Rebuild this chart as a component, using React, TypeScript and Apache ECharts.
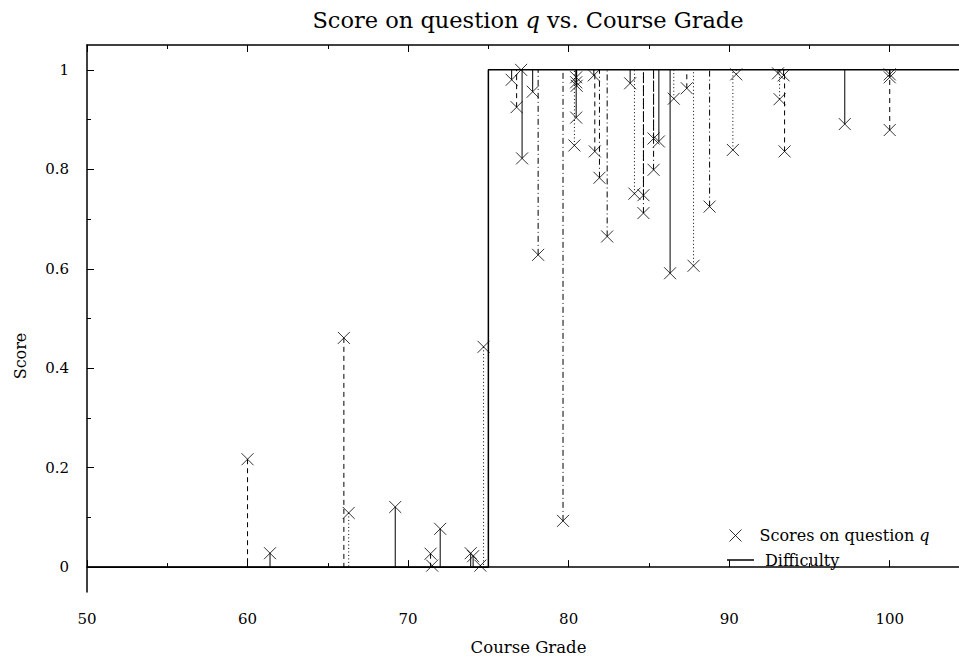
import React, { useEffect, useRef } from "react";
import * as echarts from "echarts";

// Course grade (x) and score on question q (y) for each student
const grades = [
  60.0, 61.4, 66.0, 66.3, 69.2, 71.4, 71.5, 72.0, 73.9, 74.05, 74.5, 74.7,
  76.45, 76.76, 77.04, 77.1, 77.76, 78.1, 79.65, 80.36, 80.47, 80.47, 80.47, 80.5,
  81.57, 81.63, 81.92, 82.4, 83.83, 84.1, 84.66, 84.66, 85.29, 85.29, 85.62, 86.32,
  86.55, 87.36, 87.78, 88.78, 90.23, 90.44, 93.04, 93.14, 93.39, 93.45, 97.2, 100.0,
  100.0, 100.0,
];
const scores = [
  0.217, 0.028, 0.461, 0.109, 0.121, 0.027, 0.003, 0.077, 0.028, 0.022, 0.003, 0.443,
  0.98, 0.925, 1.0, 0.822, 0.956, 0.628, 0.093, 0.848, 0.904, 0.985, 0.975, 0.968,
  0.989, 0.836, 0.783, 0.665, 0.973, 0.751, 0.748, 0.712, 0.862, 0.799, 0.856, 0.591,
  0.942, 0.963, 0.606, 0.725, 0.839, 0.991, 0.993, 0.941, 0.989, 0.836, 0.891, 0.991,
  0.985, 0.879,
];
// line style of each residual drop line (style info, separate from data)
const residualKinds = [
  "dashed", "solid", "dashed", "dotted", "solid", "dashed", "solid", "solid", "solid", "solid", "dotted", "dotted",
  "solid", "dashed", "solid", "solid", "solid", "dashdot", "dashdot", "dotted", "solid", "solid", "solid", "solid",
  "solid", "dashed", "dashdot", "dashdot", "solid", "dotted", "dashdot", "dashdot", "dashdot", "dashdot", "solid", "solid",
  "dotted", "dashed", "dotted", "dashdot", "dotted", "dotted", "solid", "dotted", "solid", "dashed", "solid", "solid",
  "solid", "dashed",
];

// Difficulty step function
const difficultyX = [50, 75, 75, 105];
const difficultyY = [0, 0, 1, 1];

const xMajorTicks = [50, 60, 70, 80, 90, 100];
const xMinorTicks = [55, 65, 75, 85, 95];
const yMajorTicks = [0, 0.2, 0.4, 0.6, 0.8, 1];
const yMinorTicks = [0.1, 0.3, 0.5, 0.7, 0.9];

const FONT = "DejaVu Serif";
const X_ICON = "path://M0,0L10,10M10,0L0,10";

function difficultyAt(x: number): number {
  let v = difficultyY[0];
  for (let i = 0; i < difficultyX.length; i++) {
    if (difficultyX[i] <= x) v = difficultyY[i];
  }
  return v;
}

function dashFor(kind: string): number[] | null {
  if (kind === "dashed") return [5, 4];
  if (kind === "dotted") return [1, 2.5];
  if (kind === "dashdot") return [6, 3, 1, 3];
  return null;
}

export default function App() {
  const ref = useRef<HTMLDivElement>(null);

  useEffect(() => {
    if (!ref.current) return;
    const chart = echarts.init(ref.current, undefined, { renderer: "svg" });

    const xBase = {
      type: "value" as const,
      min: 50,
      max: 105,
      splitLine: { show: false },
    };
    const yBase = {
      type: "value" as const,
      min: -0.05,
      max: 1.05,
      splitLine: { show: false },
    };

    chart.setOption({
      animation: false,
      backgroundColor: "#fff",
      textStyle: { fontFamily: FONT },
      grid: { left: 87, top: 45, width: 883, height: 547, containLabel: false, outerBoundsMode: "none" },
      xAxis: [
        {
          ...xBase,
          position: "bottom",
          axisLine: { show: true, lineStyle: { color: "#000", width: 1.5 } },
          axisTick: { show: true, inside: true, length: 7, customValues: xMajorTicks, lineStyle: { color: "#000" } },
          axisLabel: {
            show: true,
            customValues: xMajorTicks,
            margin: 19,
            color: "#000",
            fontFamily: FONT,
            fontSize: 15,
          },
          name: "Course Grade",
          nameLocation: "middle",
          nameGap: 47,
          nameTextStyle: { color: "#000", fontFamily: FONT, fontSize: 16.5 },
        },
        {
          ...xBase,
          position: "bottom",
          axisLine: { show: false },
          axisTick: { show: true, inside: true, length: 4, customValues: xMinorTicks, lineStyle: { color: "#000" } },
          axisLabel: { show: false },
        },
        {
          ...xBase,
          position: "top",
          axisLine: { show: true, lineStyle: { color: "#000", width: 1.5 } },
          axisTick: { show: true, inside: true, length: 7, customValues: xMajorTicks, lineStyle: { color: "#000" } },
          axisLabel: { show: false },
        },
        {
          ...xBase,
          position: "top",
          axisLine: { show: false },
          axisTick: { show: true, inside: true, length: 4, customValues: xMinorTicks, lineStyle: { color: "#000" } },
          axisLabel: { show: false },
        },
      ],
      yAxis: [
        {
          ...yBase,
          position: "left",
          axisLine: { show: true, lineStyle: { color: "#000", width: 1.5 } },
          axisTick: { show: true, inside: true, length: 7, customValues: yMajorTicks, lineStyle: { color: "#000" } },
          axisLabel: {
            show: true,
            customValues: yMajorTicks,
            margin: 18,
            color: "#000",
            fontFamily: FONT,
            fontSize: 15,
          },
        },
        {
          ...yBase,
          position: "left",
          axisLine: { show: false },
          axisTick: { show: true, inside: true, length: 4, customValues: yMinorTicks, lineStyle: { color: "#000" } },
          axisLabel: { show: false },
        },
      ],
      legend: {
        orient: "vertical",
        left: 727,
        top: 527,
        itemWidth: 28,
        itemHeight: 12,
        padding: 0,
        data: [
          { name: "Scores on question q", icon: X_ICON, itemStyle: { color: "none", borderColor: "#000", borderWidth: 1 } },
        ],
        formatter: () => "{n|Scores on question }{i|q}",
        textStyle: {
          color: "#000",
          fontFamily: FONT,
          fontSize: 16,
          padding: [0, 0, 0, 5],
          rich: {
            n: { fontFamily: FONT, fontSize: 16, color: "#000" },
            i: { fontFamily: FONT, fontSize: 16, color: "#000", fontStyle: "italic" },
          },
        },
      },
      graphic: [
        {
          type: "text",
          x: 528,
          y: 20,
          style: {
            text: "{n|Score on question }{i|q}{n| vs. Course Grade}",
            textAlign: "center",
            textVerticalAlign: "middle",
            rich: {
              n: { fontFamily: FONT, fontSize: 22.5, fill: "#000" },
              i: { fontFamily: FONT, fontSize: 22.5, fill: "#000", fontStyle: "italic" },
            },
          },
        },
        {
          type: "line",
          silent: true,
          shape: { x1: 727, y1: 560, x2: 754, y2: 560 },
          style: { stroke: "#000", lineWidth: 1.5 },
        },
        {
          type: "text",
          x: 765,
          y: 560,
          style: {
            text: "Difficulty",
            fontFamily: FONT,
            fontSize: 16,
            fill: "#000",
            textAlign: "left",
            textVerticalAlign: "middle",
          },
        },
        {
          type: "text",
          x: 20,
          y: 356,
          rotation: Math.PI / 2,
          style: {
            text: "Score",
            fontFamily: FONT,
            fontSize: 16,
            fill: "#000",
            textAlign: "center",
            textVerticalAlign: "middle",
          },
        },
      ],
      series: [
        {
          type: "custom",
          name: "residuals",
          xAxisIndex: 0,
          yAxisIndex: 0,
          silent: true,
          encode: { x: 0, y: 1 },
          data: grades.map((g, i) => [g, scores[i], i]),
          renderItem: (_params: any, api: any) => {
            const x = api.value(0);
            const y = api.value(1);
            const idx = api.value(2);
            const p0 = api.coord([x, y]);
            const p1 = api.coord([x, difficultyAt(x)]);
            return {
              type: "line",
              shape: { x1: p0[0], y1: p0[1], x2: p1[0], y2: p1[1] },
              style: { stroke: "#000", lineWidth: 1, lineDash: dashFor(residualKinds[idx]) },
            };
          },
          z: 1,
        },
        {
          type: "line",
          name: "Difficulty",
          xAxisIndex: 0,
          yAxisIndex: 0,
          data: difficultyX.map((x, i) => [x, difficultyY[i]]),
          symbol: "none",
          lineStyle: { color: "#000", width: 1.5 },
          itemStyle: { color: "#000" },
          z: 2,
        },
        {
          type: "scatter",
          name: "Scores on question q",
          xAxisIndex: 0,
          yAxisIndex: 0,
          data: grades.map((g, i) => [g, scores[i]]),
          symbol: X_ICON,
          symbolSize: 12,
          itemStyle: { color: "none", borderColor: "#000", borderWidth: 1 },
          z: 3,
        },
      ],
    });

    return () => chart.dispose();
  }, []);

  return <div ref={ref} style={{ width: 959, height: 656, position: "absolute", left: 0, top: 0 }} />;
}
